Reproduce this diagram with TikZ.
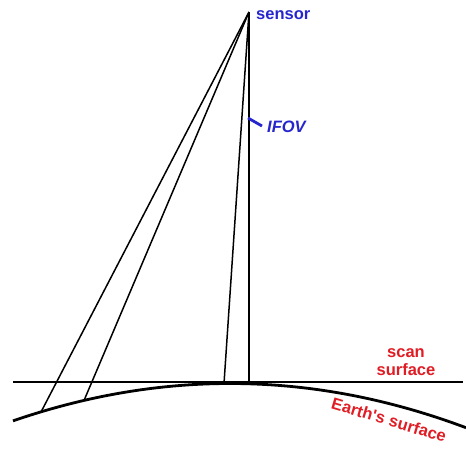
\documentclass[tikz,border=0pt]{standalone}
\usepackage{fontspec}
\setmainfont{Liberation Sans}
\definecolor{lblblue}{HTML}{2626CC}
\definecolor{lblred}{HTML}{E01C24}
\begin{document}
\begin{tikzpicture}[x=1pt,y=-1pt,
  ray/.style={line width=1.5pt},
  bluelbl/.style={text=lblblue,font=\fontsize{16.5}{17}\selectfont\bfseries,inner sep=0pt},
  redlbl/.style={text=lblred,font=\fontsize{16.5}{18}\selectfont\bfseries,inner sep=0pt,align=center}]
\useasboundingbox (0,0) rectangle (466,451);
\coordinate (S) at (249,12);
\coordinate (B1) at (41,412);
\coordinate (B2) at (84,400.5);
\coordinate (B3) at (224,383.5);
\coordinate (B4) at (249,383);
\coordinate (L) at (13,382);
\coordinate (R) at (463,382);
% Earth's surface
\draw[line width=2.8pt] plot[domain=13:466,samples=120] (\x,{383.5+0.000797*(\x-230)*(\x-230)});
% scan surface
\draw[line width=2pt] (L) -- (R);
% rays
\draw[ray] (S) -- (B1);
\draw[ray] (S) -- (B2);
\draw[ray] (S) -- (B3);
\draw[line width=1.2pt] (S) -- (B4);
% IFOV tick
\coordinate (T1) at (248,118);
\coordinate (T2) at (262,126);
\draw[lblblue,line width=2.8pt] (T1) -- (T2);
\node[bluelbl,anchor=west] (sensor) at (256,15) {sensor};
\node[bluelbl,anchor=west] (ifov) at (267,127) {\itshape IFOV};
\node[redlbl] (scan) at (406,362) {scan\\surface};
\node[redlbl,rotate=-16.5] (earth) at (389,420) {Earth\textquotesingle s surface};
\end{tikzpicture}
\end{document}
